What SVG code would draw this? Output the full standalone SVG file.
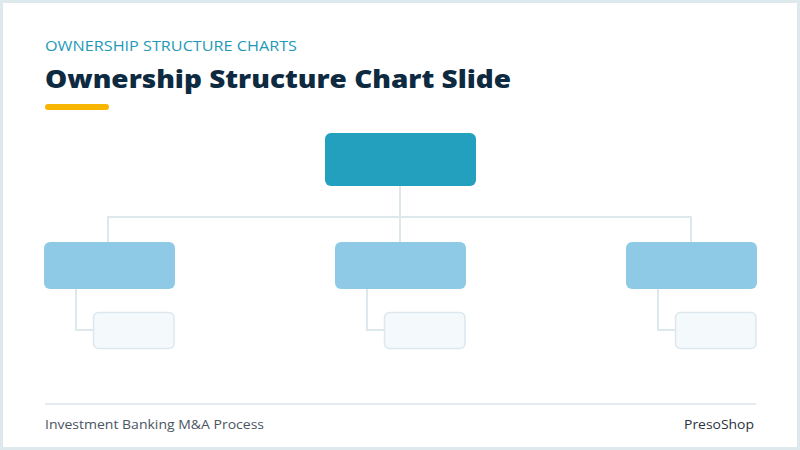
<svg xmlns="http://www.w3.org/2000/svg" width="800" height="450" viewBox="0 0 800 450">
  <style>
    .sub{font-family:"Open Sans","Liberation Sans",sans-serif;font-size:14.5px;fill:#2399b7;}
    .title{font-family:"Open Sans","Liberation Sans",sans-serif;font-size:25px;font-weight:800;fill:#0e2a41;}
    .foot{font-family:"Open Sans","Liberation Sans",sans-serif;font-size:13px;fill:#4b5561;}
    .brand{font-family:"Open Sans","Liberation Sans",sans-serif;font-size:13px;font-weight:500;fill:#2a333c;}
    .top{fill:#22a0be;}
    .mid{fill:#8ecae6;}
    .child{fill:#f4f9fc;stroke:#dde8ee;stroke-width:1.5;}
    .conn{fill:none;stroke:#dce8ec;stroke-width:2;}
  </style>
  <rect x="0" y="0" width="800" height="450" fill="#dde9ec"/>
  <rect x="3" y="3" width="794" height="444" fill="#ffffff"/>
  <text class="sub" x="45" y="51" textLength="252" lengthAdjust="spacingAndGlyphs">OWNERSHIP STRUCTURE CHARTS</text>
  <text class="title" x="45" y="88" textLength="466" lengthAdjust="spacingAndGlyphs">Ownership Structure Chart Slide</text>
  <rect x="45" y="104" width="64" height="6" rx="3" fill="#f7b500"/>
  <g id="connectors">
    <path class="conn" d="M400 186 V242"/>
    <path class="conn" d="M108 242 V217 H691 V242"/>
    <path class="conn" d="M76 289 V330 H94"/>
    <path class="conn" d="M367 289 V330 H385"/>
    <path class="conn" d="M658 289 V330 H676"/>
  </g>
  <g id="root"><rect class="top" x="325" y="133" width="151" height="53" rx="6"/></g>
  <g id="mid-left"><rect class="mid" x="44" y="242" width="131" height="47" rx="6"/></g>
  <g id="mid-center"><rect class="mid" x="335" y="242" width="131" height="47" rx="6"/></g>
  <g id="mid-right"><rect class="mid" x="626" y="242" width="131" height="47" rx="6"/></g>
  <g id="child-left"><rect class="child" x="93.5" y="312.5" width="80.5" height="36" rx="5"/></g>
  <g id="child-center"><rect class="child" x="384.5" y="312.5" width="80.5" height="36" rx="5"/></g>
  <g id="child-right"><rect class="child" x="675.5" y="312.5" width="80.5" height="36" rx="5"/></g>
  <line x1="45" y1="404" x2="756" y2="404" stroke="#dde6ea" stroke-width="1.5"/>
  <text class="foot" x="45" y="429" textLength="219" lengthAdjust="spacingAndGlyphs">Investment Banking M&amp;A Process</text>
  <text class="brand" x="754" y="429" text-anchor="end" textLength="70" lengthAdjust="spacingAndGlyphs">PresoShop</text>
</svg>
